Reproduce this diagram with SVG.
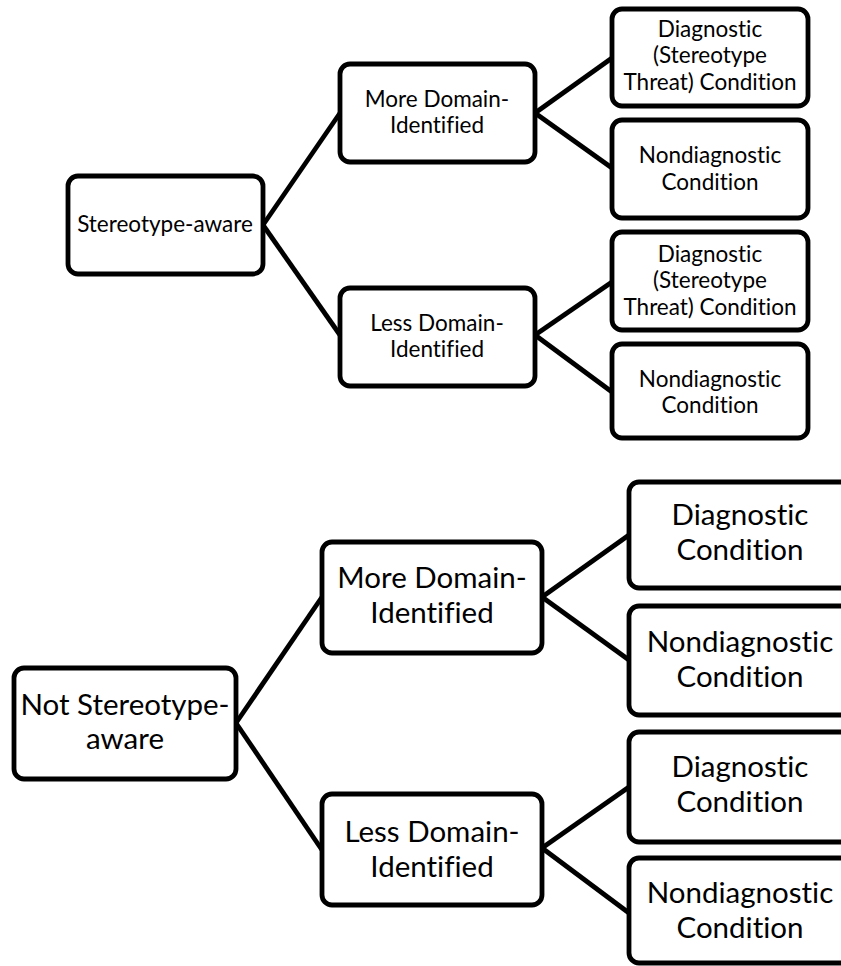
<svg xmlns="http://www.w3.org/2000/svg" width="841" height="966" viewBox="0 0 841 966">
<style>
.box{fill:#fff;stroke:#000;stroke-width:4.8}
.t{font-family:Lato,"Open Sans",sans-serif;fill:#000;text-anchor:middle;font-variant-ligatures:none}
.s{font-size:22.5px}
.b{font-size:29.5px}
.c{stroke:#000;stroke-width:4.8;fill:none}
</style>
<rect width="841" height="966" fill="#fff"/>
<g id="connectors">
<line class="c" x1="263" y1="225" x2="340" y2="113"/>
<line class="c" x1="263" y1="225" x2="340" y2="335"/>
<line class="c" x1="535" y1="113" x2="612" y2="58"/>
<line class="c" x1="535" y1="113" x2="612" y2="168"/>
<line class="c" x1="535" y1="335" x2="612" y2="282"/>
<line class="c" x1="535" y1="335" x2="612" y2="392"/>
<line class="c" x1="236" y1="723" x2="322" y2="597"/>
<line class="c" x1="236" y1="723" x2="322" y2="850"/>
<line class="c" x1="542" y1="597" x2="629" y2="535"/>
<line class="c" x1="542" y1="597" x2="629" y2="660"/>
<line class="c" x1="542" y1="848" x2="629" y2="787"/>
<line class="c" x1="542" y1="848" x2="629" y2="913"/>
</g>
<g id="sa"><rect class="box" x="68" y="176" width="195" height="98" rx="10"/><text class="t s" x="165" y="232">Stereotype-aware</text></g>
<g id="sa_more"><rect class="box" x="340" y="64" width="195" height="98" rx="10"/><text class="t s" x="437" y="107">More Domain-</text><text class="t s" x="437" y="133">Identified</text></g>
<g id="sa_less"><rect class="box" x="340" y="288" width="195" height="98" rx="10"/><text class="t s" x="437" y="331">Less Domain-</text><text class="t s" x="437" y="357">Identified</text></g>
<g id="sa_more_diag"><rect class="box" x="612" y="9" width="196" height="97" rx="10"/><text class="t s" x="710" y="37">Diagnostic</text><text class="t s" x="710" y="63">(Stereotype</text><text class="t s" x="710" y="90">Threat) Condition</text></g>
<g id="sa_more_nondiag"><rect class="box" x="612" y="120" width="196" height="98" rx="10"/><text class="t s" x="710" y="163">Nondiagnostic</text><text class="t s" x="710" y="190">Condition</text></g>
<g id="sa_less_diag"><rect class="box" x="612" y="232" width="196" height="98" rx="10"/><text class="t s" x="710" y="262">Diagnostic</text><text class="t s" x="710" y="288">(Stereotype</text><text class="t s" x="710" y="315">Threat) Condition</text></g>
<g id="sa_less_nondiag"><rect class="box" x="612" y="344" width="196" height="94" rx="10"/><text class="t s" x="710" y="387">Nondiagnostic</text><text class="t s" x="710" y="413">Condition</text></g>
<g id="nsa"><rect class="box" x="14" y="668" width="222" height="111" rx="10"/><text class="t b" x="125" y="715">Not Stereotype-</text><text class="t b" x="125" y="749">aware</text></g>
<g id="nsa_more"><rect class="box" x="322" y="542" width="220" height="111" rx="10"/><text class="t b" x="432" y="588">More Domain-</text><text class="t b" x="432" y="623">Identified</text></g>
<g id="nsa_less"><rect class="box" x="322" y="794" width="220" height="111" rx="10"/><text class="t b" x="432" y="842">Less Domain-</text><text class="t b" x="432" y="877">Identified</text></g>
<g id="nsa_more_diag"><rect class="box" x="629" y="482" width="230" height="106" rx="10"/><text class="t b" x="740" y="525">Diagnostic</text><text class="t b" x="740" y="560">Condition</text></g>
<g id="nsa_more_nondiag"><rect class="box" x="629" y="606" width="230" height="109" rx="10"/><text class="t b" x="740" y="652">Nondiagnostic</text><text class="t b" x="740" y="687">Condition</text></g>
<g id="nsa_less_diag"><rect class="box" x="629" y="732" width="230" height="110" rx="10"/><text class="t b" x="740" y="777">Diagnostic</text><text class="t b" x="740" y="812">Condition</text></g>
<g id="nsa_less_nondiag"><rect class="box" x="629" y="858" width="230" height="105" rx="10"/><text class="t b" x="740" y="903">Nondiagnostic</text><text class="t b" x="740" y="938">Condition</text></g>
</svg>
